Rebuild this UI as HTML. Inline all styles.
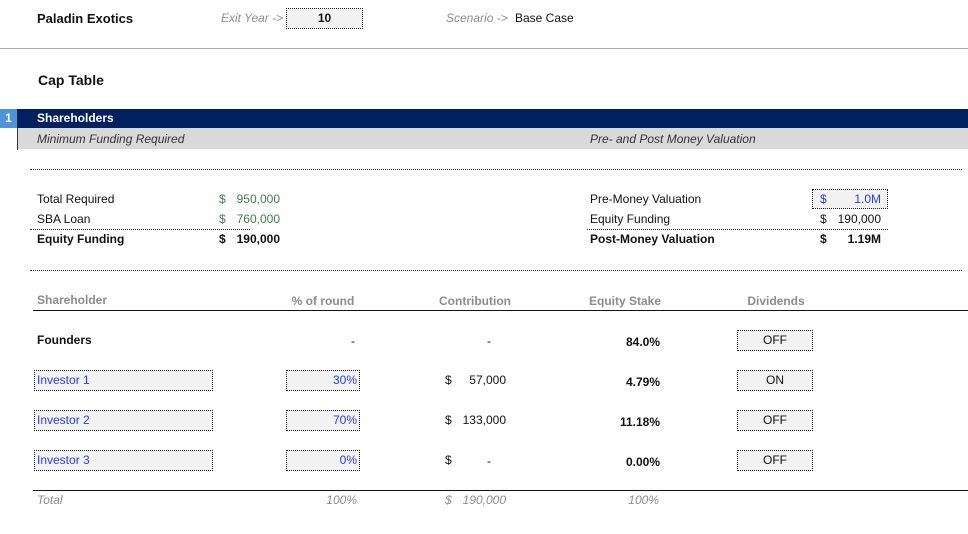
<!DOCTYPE html>
<html><head><meta charset="utf-8"><style>
body{margin:0;width:968px;height:534px;background:#fff;position:relative;overflow:hidden;font-family:"Liberation Sans",sans-serif;font-size:12px;color:#111}
.a{position:absolute;white-space:nowrap;line-height:14px}
.b{font-weight:bold}.i{font-style:italic}.g{color:#8c8c8c}.gr{color:#3f7f46}.bl{color:#2a3cf0}
.box{position:absolute;background:#f2f2f2;border:1px dotted #222;box-sizing:border-box}
.dl{position:absolute;height:0;border-top:1px dotted #333}
.r{text-align:right}.c{text-align:center}
</style></head><body>
<div class="a b" style="left:37px;top:12px;font-size:13px">Paladin Exotics</div>
<div class="a i g" style="left:221px;top:11px">Exit Year -&gt;</div>
<div class="box b c" style="left:286px;top:8px;width:77px;height:21px;line-height:19px">10</div>
<div class="a i g" style="left:446px;top:11px">Scenario -&gt;</div>
<div class="a" style="left:515px;top:11px">Base Case</div>
<div style="position:absolute;left:0;top:48px;width:968px;height:1px;background:#a6a6a6"></div>
<div class="a b" style="left:38px;top:72px;font-size:14px;line-height:16px">Cap Table</div>
<div style="position:absolute;left:0;top:109px;width:17px;height:19px;background:#4e94d8;color:#fff;font-weight:bold;text-align:center;line-height:19px">1</div>
<div style="position:absolute;left:17px;top:109px;width:951px;height:19px;background:#002060"><span class="a b" style="left:20px;top:2px;color:#fff">Shareholders</span></div>
<div style="position:absolute;left:17px;top:128px;width:951px;height:21px;background:#d9d9d9;border-left:1px dotted #333;box-sizing:border-box">
<span class="a i" style="left:19px;top:4px;color:#333">Minimum Funding Required</span>
<span class="a i" style="left:572px;top:4px;color:#333">Pre- and Post Money Valuation</span></div>
<div style="position:absolute;left:17px;top:109px;height:41px;border-left:1px dotted #333"></div>
<div class="dl" style="left:30px;top:169px;width:932px"></div>

<div class="a" style="left:37px;top:192px">Total Required</div>
<div class="a gr" style="left:219px;top:192px">$</div><div class="a gr r" style="left:220px;top:192px;width:60px">950,000</div>
<div class="a" style="left:37px;top:212px">SBA Loan</div>
<div class="a gr" style="left:219px;top:212px">$</div><div class="a gr r" style="left:220px;top:212px;width:60px">760,000</div>
<div class="dl" style="left:30px;top:229px;width:220px"></div>
<div class="a b" style="left:37px;top:232px">Equity Funding</div>
<div class="a b" style="left:219px;top:232px">$</div><div class="a b r" style="left:220px;top:232px;width:60px">190,000</div>

<div class="a" style="left:590px;top:192px">Pre-Money Valuation</div>
<div class="box" style="left:812px;top:189px;width:76px;height:20px"></div>
<div class="a bl" style="left:820px;top:192px">$</div><div class="a bl r" style="left:830px;top:192px;width:51px">1.0M</div>
<div class="a" style="left:590px;top:212px">Equity Funding</div>
<div class="a" style="left:820px;top:212px">$</div><div class="a r" style="left:830px;top:212px;width:51px">190,000</div>
<div class="dl" style="left:587px;top:229px;width:301px"></div>
<div class="a b" style="left:590px;top:232px">Post-Money Valuation</div>
<div class="a b" style="left:820px;top:232px">$</div><div class="a b r" style="left:830px;top:232px;width:51px">1.19M</div>
<div class="dl" style="left:30px;top:270px;width:932px"></div>

<div class="a b g" style="left:37px;top:293px">Shareholder</div>
<div class="a b g c" style="left:273px;top:294px;width:100px">% of round</div>
<div class="a b g c" style="left:425px;top:294px;width:100px">Contribution</div>
<div class="a b g c" style="left:575px;top:294px;width:100px">Equity Stake</div>
<div class="a b g c" style="left:726px;top:294px;width:100px">Dividends</div>
<div style="position:absolute;left:33px;top:310px;width:935px;height:1px;background:#111"></div>

<div class="a b" style="left:37px;top:333px">Founders</div>
<div class="a r" style="left:300px;top:334px;width:55px">-</div>
<div class="a" style="left:487px;top:334px">-</div>
<div class="a b r" style="left:580px;top:335px;width:80px">84.0%</div>
<div class="box c" style="left:737px;top:330px;width:76px;height:21px;line-height:19px">OFF</div>

<div class="box bl" style="left:34px;top:370px;width:179px;height:21px;line-height:19px;padding-left:2px">Investor 1</div>
<div class="box bl r" style="left:286px;top:370px;width:74px;height:21px;line-height:19px;padding-right:2px">30%</div>
<div class="a" style="left:445px;top:373px">$</div><div class="a r" style="left:456px;top:373px;width:50px">57,000</div>
<div class="a b r" style="left:580px;top:375px;width:80px">4.79%</div>
<div class="box c" style="left:737px;top:370px;width:76px;height:21px;line-height:19px">ON</div>

<div class="box bl" style="left:34px;top:410px;width:179px;height:21px;line-height:19px;padding-left:2px">Investor 2</div>
<div class="box bl r" style="left:286px;top:410px;width:74px;height:21px;line-height:19px;padding-right:2px">70%</div>
<div class="a" style="left:445px;top:413px">$</div><div class="a r" style="left:456px;top:413px;width:50px">133,000</div>
<div class="a b r" style="left:580px;top:415px;width:80px">11.18%</div>
<div class="box c" style="left:737px;top:410px;width:76px;height:21px;line-height:19px">OFF</div>

<div class="box bl" style="left:34px;top:450px;width:179px;height:21px;line-height:19px;padding-left:2px">Investor 3</div>
<div class="box bl r" style="left:286px;top:450px;width:74px;height:21px;line-height:19px;padding-right:2px">0%</div>
<div class="a" style="left:445px;top:453px">$</div><div class="a" style="left:487px;top:454px">-</div>
<div class="a b r" style="left:580px;top:455px;width:80px">0.00%</div>
<div class="box c" style="left:737px;top:450px;width:76px;height:21px;line-height:19px">OFF</div>

<div style="position:absolute;left:33px;top:490px;width:935px;height:1px;background:#111"></div>
<div class="a i g" style="left:37px;top:493px">Total</div>
<div class="a i g r" style="left:300px;top:493px;width:57px">100%</div>
<div class="a i g" style="left:445px;top:493px">$</div><div class="a i g r" style="left:456px;top:493px;width:50px">190,000</div>
<div class="a i g r" style="left:580px;top:493px;width:79px">100%</div>
</body></html>
